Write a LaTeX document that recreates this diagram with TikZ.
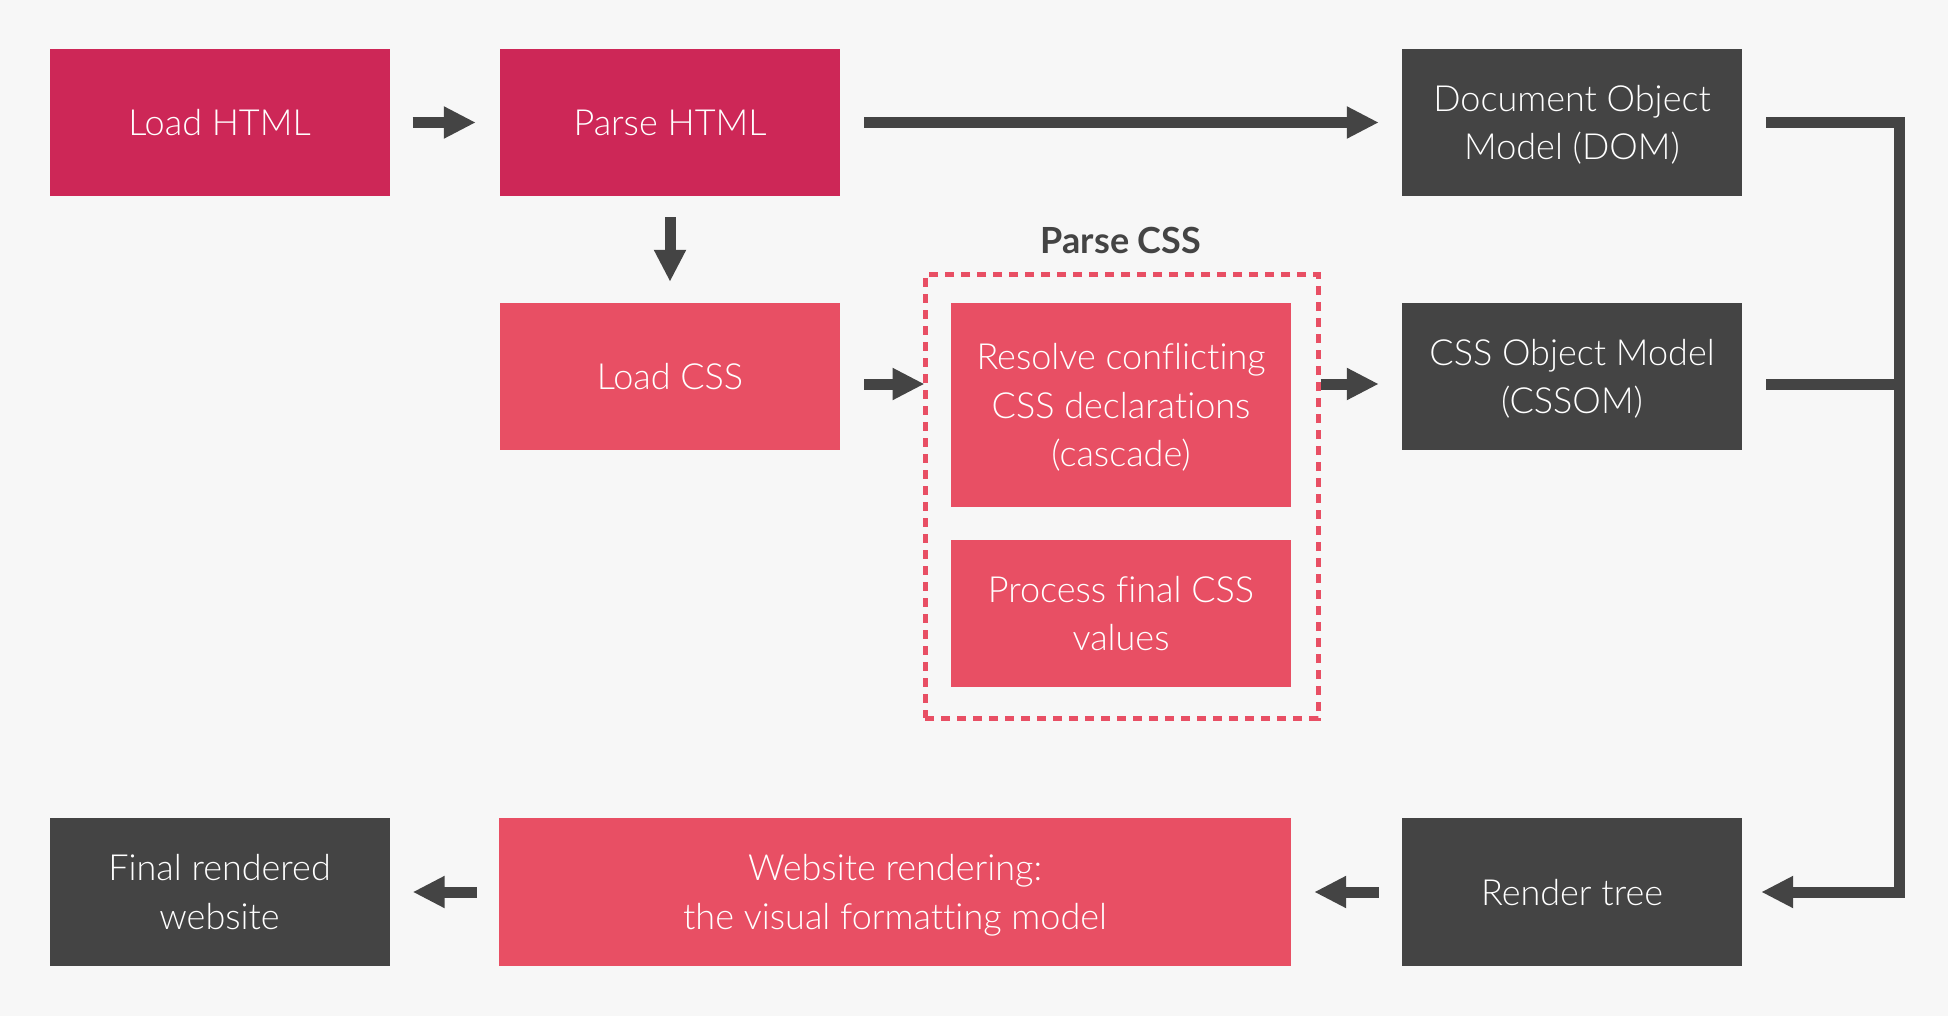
\documentclass[tikz,border=0pt]{standalone}
\usepackage{fontspec}
\setmainfont{Lato}
\newfontfamily\lightfont{Lato Light}[Ligatures=NoCommon]
\usetikzlibrary{arrows.meta}
\definecolor{crim}{HTML}{CD2757}
\definecolor{pinkr}{HTML}{E84F64}
\definecolor{darkg}{HTML}{444444}
\definecolor{bgc}{HTML}{F7F7F7}
\begin{document}
\begin{tikzpicture}[x=1pt,y=-1pt,
  box/.style={rectangle, inner sep=0pt, minimum width=340pt, minimum height=147pt,
    text=white, align=center, text depth=0pt, font={\lightfont\fontsize{36}{48.5}\selectfont}},
  htmlbox/.style={box, fill=crim},
  cssbox/.style={box, fill=pinkr},
  darkbox/.style={box, fill=darkg},
  dashbox/.style={rectangle, inner sep=0pt, draw=pinkr, line width=5pt, dash pattern=on 9pt off 7pt},
  conn/.style={draw=darkg, line width=11pt, line join=miter},
  arr/.style={conn, -{Triangle[length=32pt,width=30pt]}},
  lbl/.style={text=darkg, font={\bfseries\fontsize{36}{42}\selectfont}}
]
\fill[bgc] (0,0) rectangle (1948,1016);
\useasboundingbox (0,0) rectangle (1948,1016);

\node[htmlbox] (lh) at (219.5,122.5) {Load HTML};
\node[htmlbox] (ph) at (670,122.5) {Parse HTML};
\node[darkbox] (dom) at (1572,122.5) {Document Object\\Model (DOM)};
\node[cssbox] (lc) at (670,376.5) {Load CSS};
\node[cssbox, minimum height=204pt] (res) at (1121,405) {Resolve conflicting\\CSS declarations\\(cascade)};
\node[cssbox] (proc) at (1121,613.5) {Process final CSS\\values};
\node[darkbox] (cssom) at (1572,376.5) {CSS Object Model\\(CSSOM)};
\node[dashbox, minimum width=393pt, minimum height=443pt] (pcss) at (1121.5,496.5) {};
\node[lbl] (pcsslbl) at (1121,240) {Parse CSS};
\node[darkbox, minimum height=148pt] (frw) at (219.5,892) {Final rendered\\website};
\node[cssbox, minimum width=792pt, minimum height=148pt] (wr) at (895,892) {Website rendering:\\the visual formatting model};
\node[darkbox, minimum height=148pt] (rt) at (1572,892) {Render tree};

\coordinate (ya) at (0,384);
\coordinate (rc) at (1899,0);

\draw[arr] ([xshift=23pt]lh.east) -- ([xshift=-24pt]ph.west);
\draw[arr] ([xshift=24pt]ph.east) -- ([xshift=-23pt]dom.west);
\draw[arr] ([yshift=-21pt]ph.south) -- ([yshift=21pt]lc.north);
\draw[arr] ([xshift=24pt]lc.east |- ya) -- ([xshift=2pt]pcss.west |- ya);
\draw[arr] (pcss.east |- ya) -- ([xshift=-23pt]cssom.west |- ya);
\draw[arr] ([xshift=24pt]dom.east) -- (rc |- dom.east) -- (rc |- rt.east) -- ([xshift=19pt]rt.east);
\draw[conn] ([xshift=24pt]cssom.east |- ya) -- (rc |- ya);
\draw[arr] ([xshift=-23pt]rt.west) -- ([xshift=23pt]wr.east);
\draw[arr] ([xshift=-22pt]wr.west) -- ([xshift=23pt]frw.east);
\end{tikzpicture}
\end{document}
